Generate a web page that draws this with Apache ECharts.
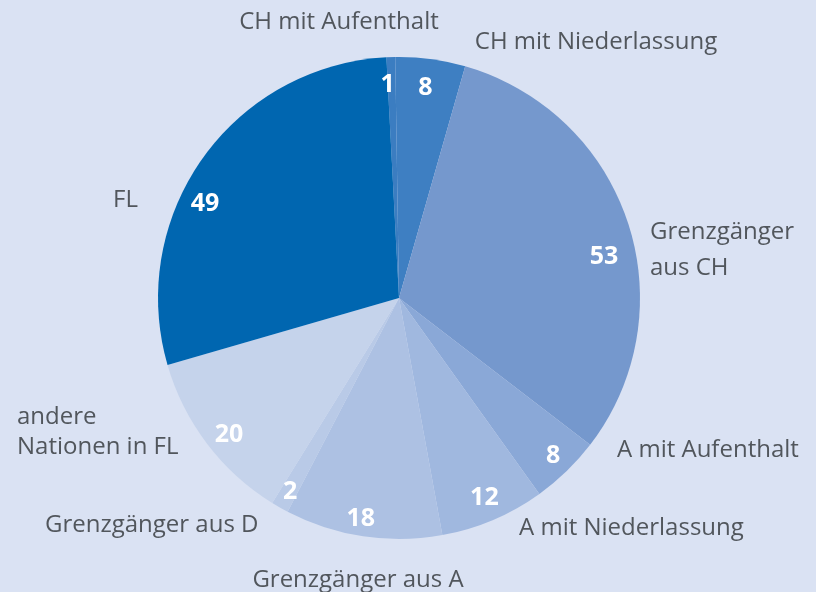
<!DOCTYPE html>
<html>
<head>
<meta charset="utf-8">
<script src="https://cdn.jsdelivr.net/npm/echarts@6/dist/echarts.min.js"></script>
<style>
  html, body { margin: 0; padding: 0; background: #dae2f3; }
  #chart { width: 816px; height: 592px; }
</style>
</head>
<body>
<div id="chart"></div>
<script>
// Beschäftigte nach Herkunft
const categories = ['CH mit Aufenthalt', 'CH mit Niederlassung', 'Grenzgänger\naus CH', 'A mit Aufenthalt',
  'A mit Niederlassung', 'Grenzgänger aus A', 'Grenzgänger aus D', 'andere\nNationen in FL', 'FL'];
const values = [1, 8, 53, 8, 12, 18, 2, 20, 49];
const colors = ['#3b7dc1', '#3e7fc2', '#7598cd', '#8aa8d7', '#a0b8df', '#adc1e3', '#b9cae7', '#c5d3eb', '#0066b0'];

// wo die Namen stehen (x, y, Ausrichtung)
const nameSpots = [
  [339, 22, 'center'], [596, 42, 'center'], [650, 250, 'left'], [617, 450, 'left'],
  [519, 528, 'left'], [358, 580, 'center'], [45, 525, 'left'], [17, 432, 'left'], [113, 200, 'left']
];
// kleine Verschiebung der Zahlen
const valueShift = [[-4, 3], [-2, 4], [0, 27], [4, 3], [1, 1], [-6, 7], [-2, 6], [2, 6], [-18, 31]];

const pieData = categories.map((name, i) => ({
  name: name,
  value: values[i],
  itemStyle: { color: colors[i] },
  label: { lineHeight: i === 7 ? 30 : 36 }
}));

const chart = echarts.init(document.getElementById('chart'));

chart.setOption({
  backgroundColor: '#dae2f3',
  animation: false,
  series: [
    {
      // Tortenstücke mit Namen außen
      type: 'pie',
      center: [399, 298],
      radius: 241,
      startAngle: 93,
      clockwise: true,
      silent: true,
      data: pieData,
      label: {
        position: 'outside',
        color: '#51565c',
        fontFamily: 'Open Sans',
        fontSize: 24
      },
      labelLine: { show: false, length: 8, length2: 8 },
      labelLayout: function (p) {
        const s = nameSpots[p.dataIndex];
        return { x: s[0], y: s[1], align: s[2], verticalAlign: 'middle' };
      }
    },
    {
      // nur die Zahlen, nahe am Rand
      type: 'pie',
      center: [399, 298],
      radius: [185, 241],
      startAngle: 93,
      clockwise: true,
      silent: true,
      data: pieData.map(d => ({ name: d.name, value: d.value, itemStyle: { color: 'rgba(0,0,0,0)' } })),
      label: {
        position: 'inside',
        formatter: '{c}',
        color: '#ffffff',
        fontFamily: 'Open Sans',
        fontWeight: 'bold',
        fontSize: 25
      },
      labelLine: { show: false },
      labelLayout: function (p) {
        const s = valueShift[p.dataIndex];
        return { dx: s[0], dy: s[1] };
      }
    }
  ]
});
</script>
</body>
</html>
